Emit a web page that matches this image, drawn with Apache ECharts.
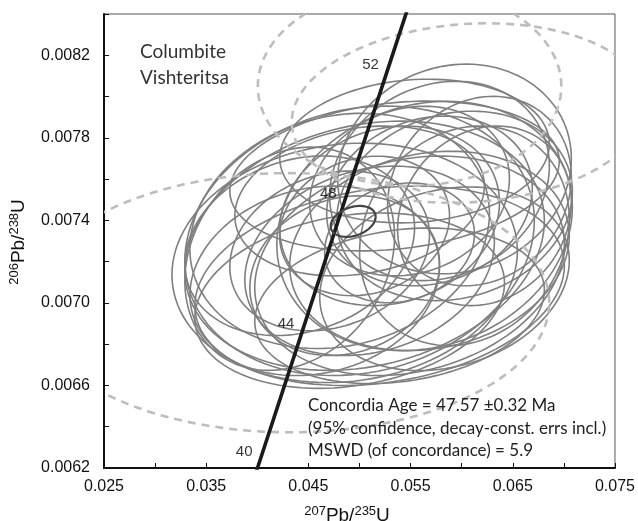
<!DOCTYPE html>
<html>
<head>
<meta charset="utf-8">
<script src="https://cdn.jsdelivr.net/npm/echarts@6/dist/echarts.min.js"></script>
<style>html,body{margin:0;padding:0;background:#fff}#c{width:638px;height:521px}</style>
</head>
<body>
<div id="c"></div>
<script>
// Solid error ellipses (data units): centre, half-widths, correlation
const ellCx = [0.05930,0.05783,0.05930,0.05685,0.04855,0.05001,0.05050,0.04904,0.05197,0.05490,
               0.05685,0.05295,0.05050,0.04708,0.05490,0.04415,0.05099,0.05637,0.05343,0.06027,
               0.05832,0.04562,0.05001,0.05392,0.06174,0.04855,0.05392,0.06223,0.04317,0.05539,0.04806];
const ellCy = [0.007649,0.007591,0.007470,0.007494,0.007194,0.007301,0.007277,0.007011,0.007083,0.007180,
               0.007252,0.007422,0.007373,0.007252,0.007542,0.007277,0.007204,0.007373,0.007615,0.007325,
               0.007117,0.007107,0.007494,0.007291,0.007542,0.007132,0.006986,0.007422,0.007214,0.007736,0.007349];
const ellSx = [0.01143,0.01075,0.01153,0.01006,0.01690,0.01710,0.01759,0.01515,0.01808,0.01515,
               0.01368,0.01075,0.00831,0.00977,0.00977,0.01124,0.01221,0.01446,0.01612,0.01026,
               0.01221,0.01221,0.01221,0.00733,0.00899,0.00928,0.01417,0.00850,0.01026,0.01319,0.01466];
const ellSy = [0.000508,0.000483,0.000459,0.000411,0.000580,0.000653,0.000604,0.000425,0.000483,0.000532,
               0.000483,0.000435,0.000338,0.000387,0.000411,0.000435,0.000459,0.000604,0.000363,0.000532,
               0.000445,0.000459,0.000363,0.000290,0.000459,0.000387,0.000377,0.000435,0.000541,0.000348,0.000570];
const ellRho = [0.10,0.15,0.15,0.15,0.10,0.15,0.20,0.20,0.20,0.20,
                0.15,0.15,0.15,0.20,0.15,0.20,0.20,0.15,0.20,0.15,
                0.20,0.15,0.20,0.15,0.15,0.15,0.20,0.15,0.20,0.10,0.15];

// Excluded (dashed) ellipses
const exCx = [0.05490,0.06076,0.04317];
const exCy = [0.008050,0.007920,0.007001];
const exSx = [0.01485,0.01739,0.02540];
const exSy = [0.000483,0.000435,0.000628];
const exRho = [0.0,0.1,0.0];

// Concordia age ellipse
const caCx = [0.04938];
const caCy = [0.007395];
const caSx = [0.00220];
const caSy = [0.0000749];
const caRho = [0.3];

// Concordia curve (age in Ma, 207Pb/235U, 206Pb/238U)
const concAge = [38, 40, 44, 48, 52, 56];
const concX = [0.03813, 0.04018, 0.04428, 0.04841, 0.05255, 0.05670];
const concY = [0.005912, 0.006224, 0.006844, 0.007473, 0.008099, 0.008725];
const labelAges = [40, 44, 48, 52];

const infoLines = ['Concordia Age = 47.57 \u00b10.32 Ma',
                   '(95% confidence, decay-const. errs incl.)',
                   'MSWD (of concordance) = 5.9'];
const sampleLines = ['Columbite', 'Vishteritsa'];

function pack(a,b,c,d,e){ return a.map((_,i)=>[a[i],b[i],c[i],d[i],e[i]]); }

function ellRenderer(stroke, width, dash){
  return function(params, api){
    const cx=api.value(0), cy=api.value(1), sx=api.value(2), sy=api.value(3), r=api.value(4);
    const pts=[]; const N=120; const q=Math.sqrt(1-r*r);
    for(let k=0;k<N;k++){
      const t=2*Math.PI*k/N;
      pts.push(api.coord([cx+sx*Math.cos(t), cy+sy*(r*Math.cos(t)+q*Math.sin(t))]));
    }
    return {type:'polygon', shape:{points:pts},
      style:{fill:'none', stroke:stroke, lineWidth:width, lineDash:dash||null}};
  };
}

const chart = echarts.init(document.getElementById('c'), null, {renderer:'canvas'});
const tickFont = {fontFamily:'Liberation Sans, Arial, sans-serif', fontSize:16, color:'#111'};
const txtFont = 'Lato, Carlito, Calibri, sans-serif';

chart.setOption({
  animation:false,
  backgroundColor:'#fff',
  grid:{left:104, right:22, top:14, bottom:53, show:true, borderColor:'#555', borderWidth:1, containLabel:false},
  xAxis:{type:'value', min:0.025, max:0.075, interval:0.005,
    axisLine:{show:true, lineStyle:{color:'#111', width:2}},
    axisTick:{show:true, inside:true, length:5, lineStyle:{color:'#111', width:1}},
    splitLine:{show:false},
    axisLabel:Object.assign({margin:11, showMinLabel:true, showMaxLabel:true,
      formatter:v=> (Math.round((v-0.025)/0.005)%2===0 ? v.toFixed(3) : '')}, tickFont)},
  yAxis:{type:'value', min:0.0062, max:0.0084, interval:0.0002,
    axisLine:{show:true, lineStyle:{color:'#111', width:2}},
    axisTick:{show:true, inside:true, length:5, lineStyle:{color:'#111', width:1}},
    splitLine:{show:false},
    axisLabel:Object.assign({margin:14, showMinLabel:true, showMaxLabel:true,
      formatter:v=> (Math.round((v-0.0062)/0.0002)%2===0 ? v.toFixed(4) : '')}, tickFont)},
  series:[
    {type:'custom', name:'data', clip:true, renderItem:ellRenderer('#7f7f7f',1.6),
     encode:{x:0,y:1}, data:pack(ellCx,ellCy,ellSx,ellSy,ellRho), z:2},
    {type:'custom', name:'excluded', clip:true, renderItem:ellRenderer('#bdbdbd',2.6,[8,6]),
     encode:{x:0,y:1}, data:pack(exCx,exCy,exSx,exSy,exRho), z:3},
    {type:'line', name:'concordia', data:concX.map((x,i)=>[x,concY[i]]), showSymbol:false, symbol:'none',
     lineStyle:{color:'#1a1a1a', width:3.6}, clip:true, z:4},
    {type:'scatter', name:'ages', symbolSize:0,
     data:labelAges.map(a=>{const i=concAge.indexOf(a); return {value:[concX[i],concY[i]], name:String(a)};}),
     label:{show:true, formatter:p=>p.name, position:'inside', offset:[-15,-11],
       fontFamily:'Liberation Sans, Arial, sans-serif', fontSize:15, color:'#000'}, z:5},
    {type:'custom', name:'concordiaAge', clip:true, renderItem:ellRenderer('#444',2.2),
     encode:{x:0,y:1}, data:pack(caCx,caCy,caSx,caSy,caRho), z:6}
  ],
  graphic:[
    {type:'text', left:140, top:39, z:10, style:{text:sampleLines.join('\n'), font:'19px '+txtFont, fill:'#333', lineHeight:26}},
    {type:'text', left:308, top:394, z:10, style:{text:infoLines.join('\n'), font:'17px '+txtFont, fill:'#222', lineHeight:22.7}},
    {type:'text', x:347, y:516, z:10, style:{
      text:'{s|207}{m|Pb/}{s|235}{m|U}', align:'center', verticalAlign:'middle',
      rich:{s:{fontSize:13, fontFamily:'Liberation Sans, Arial', fill:'#111', verticalAlign:'top', lineHeight:14},
            m:{fontSize:19, fontFamily:'Liberation Sans, Arial', fill:'#111', lineHeight:22}}}},
    {type:'text', x:19, y:242, rotation:Math.PI/2, z:10, style:{
      text:'{s|206}{m|Pb/}{s|238}{m|U}', align:'center', verticalAlign:'middle',
      rich:{s:{fontSize:13, fontFamily:'Liberation Sans, Arial', fill:'#111', verticalAlign:'top', lineHeight:14},
            m:{fontSize:19, fontFamily:'Liberation Sans, Arial', fill:'#111', lineHeight:22}}}}
  ]
});
</script>
</body>
</html>
